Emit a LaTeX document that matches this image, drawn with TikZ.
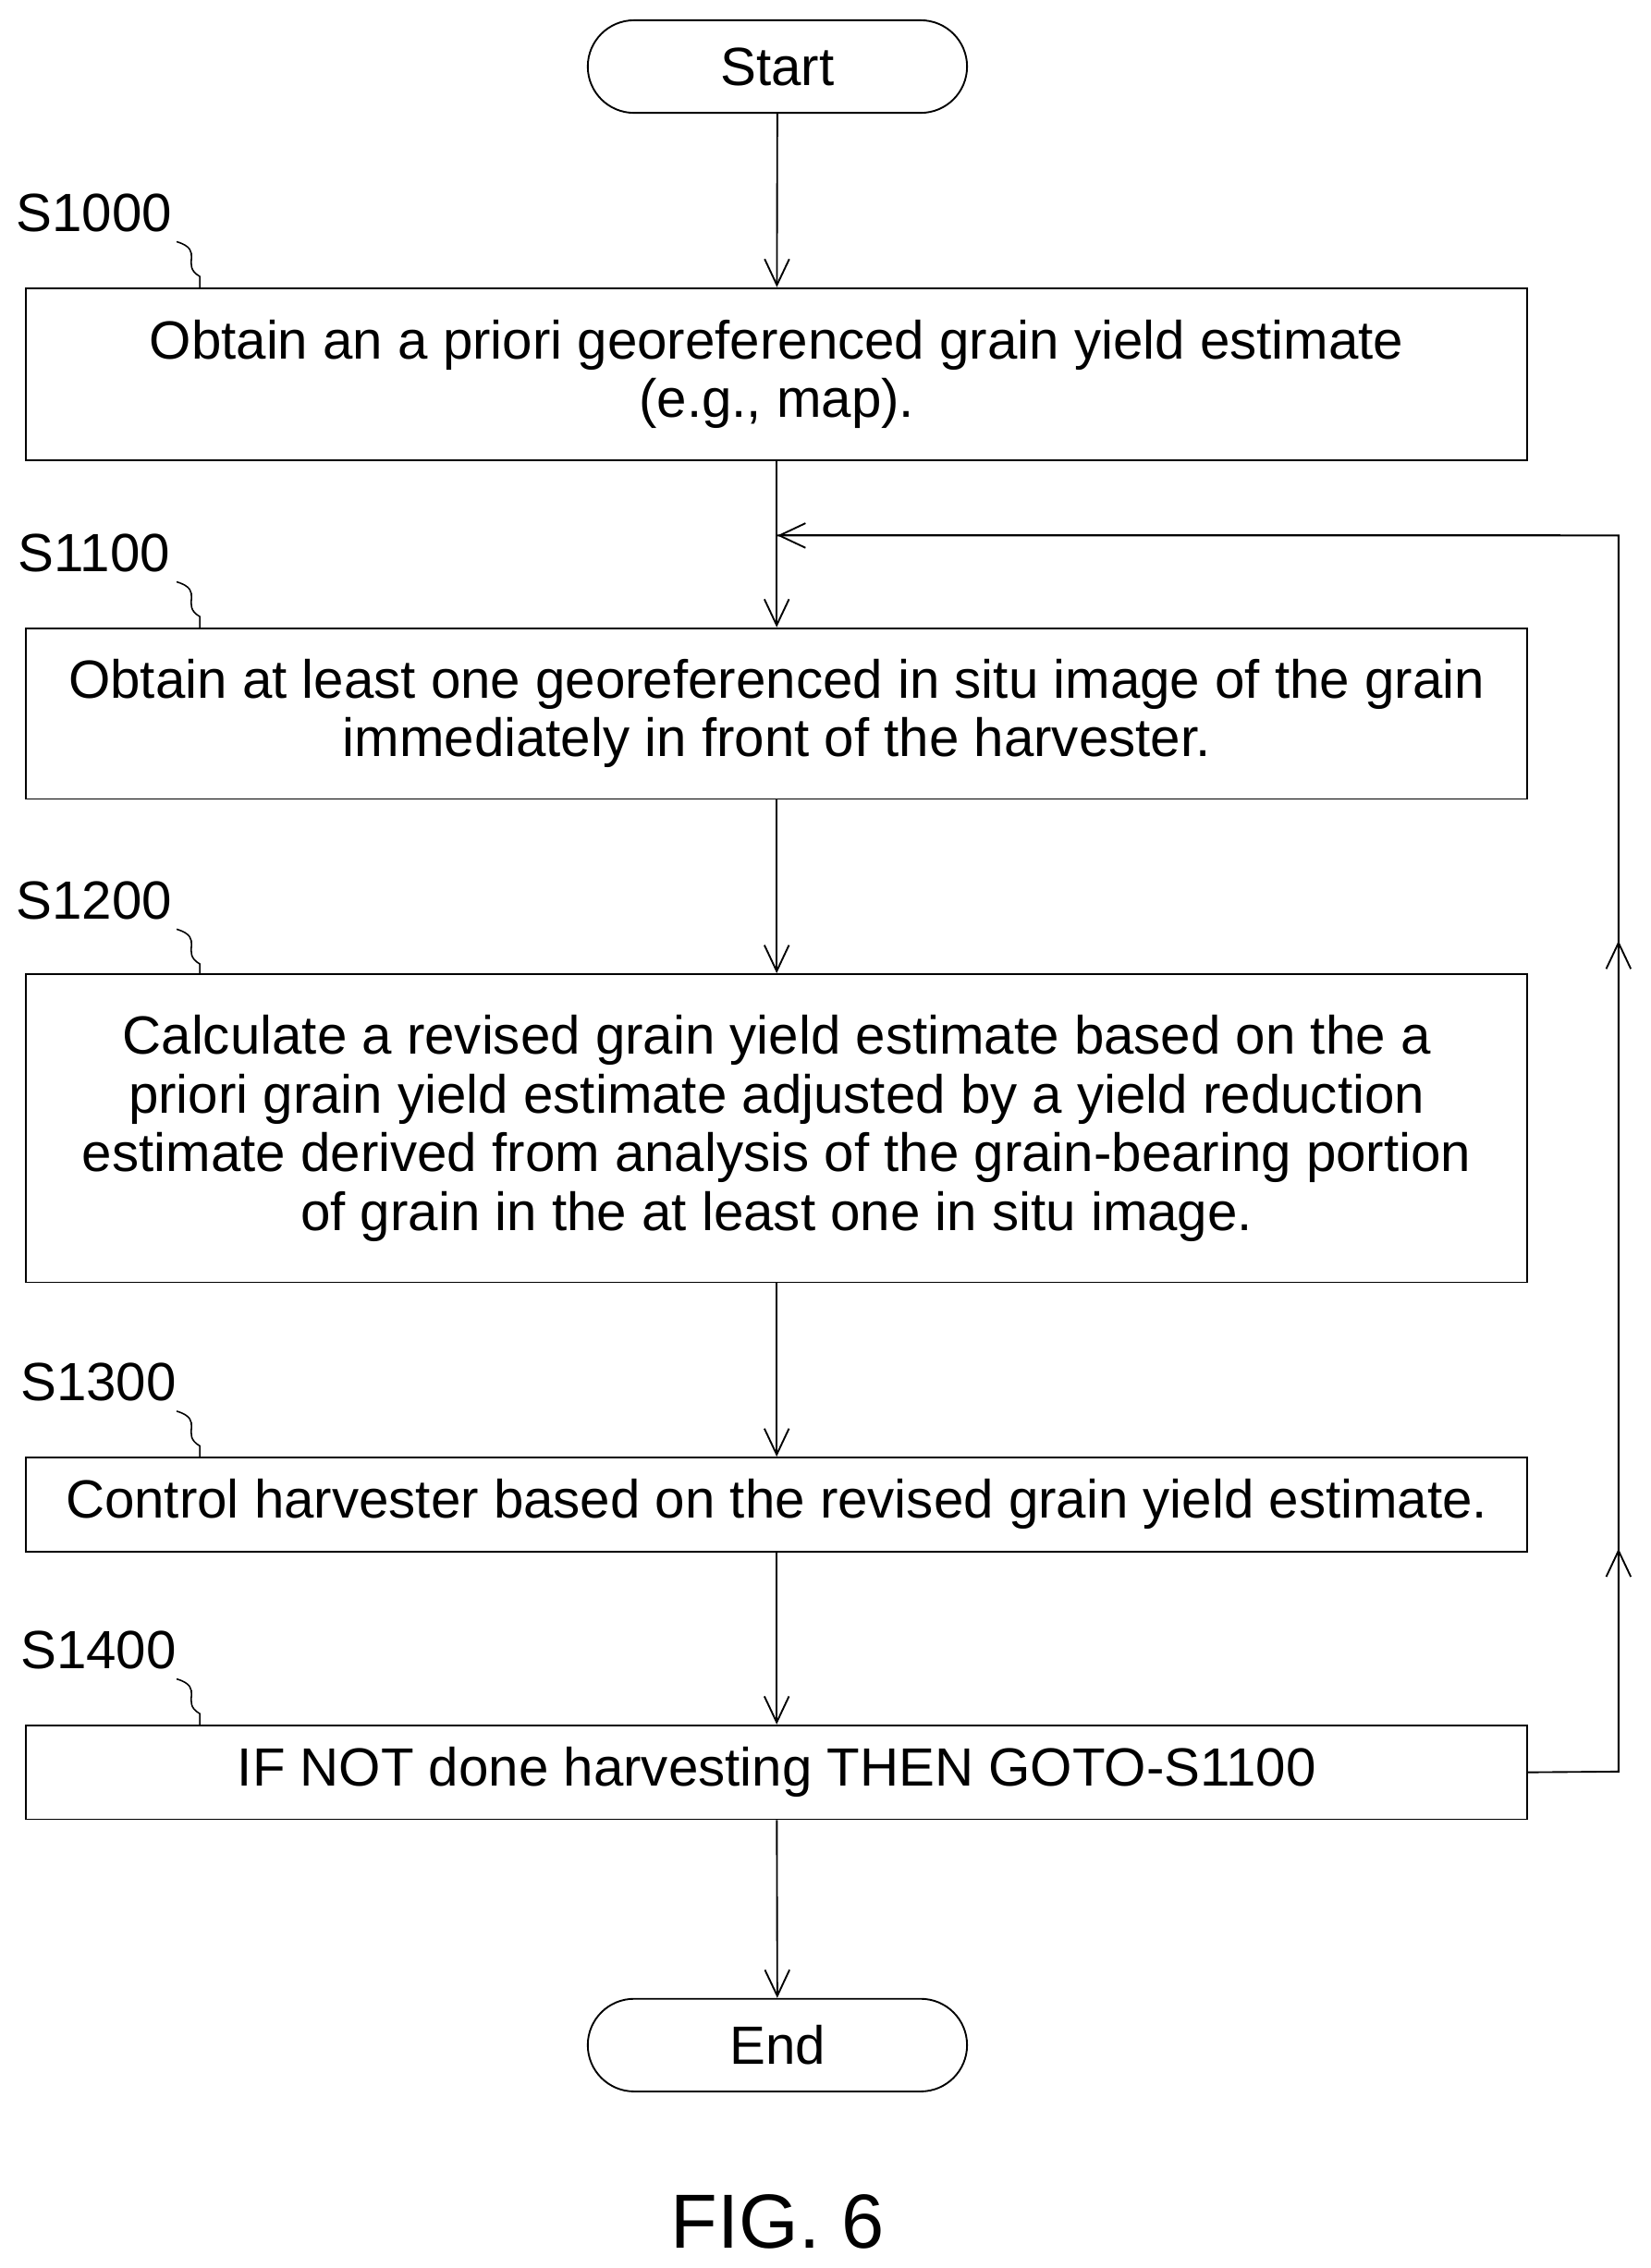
\documentclass[tikz,border=0pt]{standalone}
\usepackage{fontspec}
\setmainfont{Liberation Sans}
\usetikzlibrary{arrows.meta,shapes.misc}
\begin{document}
\begin{tikzpicture}[x=0.5pt,y=-0.5pt,
  every node/.style={font=\fontsize{18.6}{20.3}\selectfont},
  term/.style={draw, rounded rectangle, minimum width=131pt, minimum height=32pt, inner sep=0pt},
  stepbox/.style={draw, rectangle, minimum width=518.5pt, align=center, inner sep=0pt},
  lbl/.style={anchor=center},
  flow/.style={-{Straight Barb[length=9pt,width=8.5pt]}},
  squig/.style={line width=0.5pt}]
\useasboundingbox (0,0) rectangle (1140,1567);
\tikzstyle{every path}=[line width=0.6pt]

\node[term] (start) at (537,46) {Start};
\node[stepbox, minimum height=59.5pt] (s1000) at (536.5,258.5) {Obtain an a priori georeferenced grain yield estimate\\(e.g., map).};
\node[stepbox, minimum height=59pt] (s1100) at (536.5,493) {Obtain at least one georeferenced in situ image of the grain\\immediately in front of the harvester.};
\node[stepbox, minimum height=106.5pt] (s1200) at (536.5,779.5) {Calculate a revised grain yield estimate based on the a\\priori grain yield estimate adjusted by a yield reduction\\estimate derived from analysis of the grain-bearing portion\\of grain in the at least one in situ image.};
\node[stepbox, minimum height=32.5pt] (s1300) at (536.5,1039.5) {Control harvester based on the revised grain yield estimate.};
\node[stepbox, minimum height=32.5pt] (s1400) at (536.5,1224.5) {IF NOT done harvesting THEN GOTO-S1100};
\node[term] (end) at (537,1413) {End};
\node[font=\fontsize{26.5}{30}\selectfont] (fig) at (537,1535) {FIG. 6};

% step labels
\node[lbl] (l1000) at (65,147) {S1000};
\node[lbl] (l1100) at (65,382) {S1100};
\node[lbl] (l1200) at (65,622) {S1200};
\node[lbl] (l1300) at (68,955) {S1300};
\node[lbl] (l1400) at (68,1140) {S1400};
\foreach \y/\t in {167/199,402/434,642/673,975/1007,1160/1192}
  \draw[squig] (122,\y) .. controls (142,\y+6) and (124,\y+16) .. (138,\y+24) -- (138,\t);

% connectors
\draw[flow] (start) -- (s1000);
\draw[flow] (s1000) -- (s1100);
\draw[flow] (s1100) -- (s1200);
\draw[flow] (s1200) -- (s1300);
\draw[flow] (s1300) -- (s1400);
\draw[flow] (s1400) -- (end);

\coordinate (back) at (537,370);
\coordinate (rb) at (1118,1224);
\coordinate (rt) at (1118,370);
\draw (s1400.east) -- (rb) -- (rt) -- (back);
\draw[flow] (rt) ++(-40,0) -- (back);
\draw[flow] (rb) -- (1118,1070);
\draw[flow] (1118,900) -- (1118,650);
\end{tikzpicture}
\end{document}
